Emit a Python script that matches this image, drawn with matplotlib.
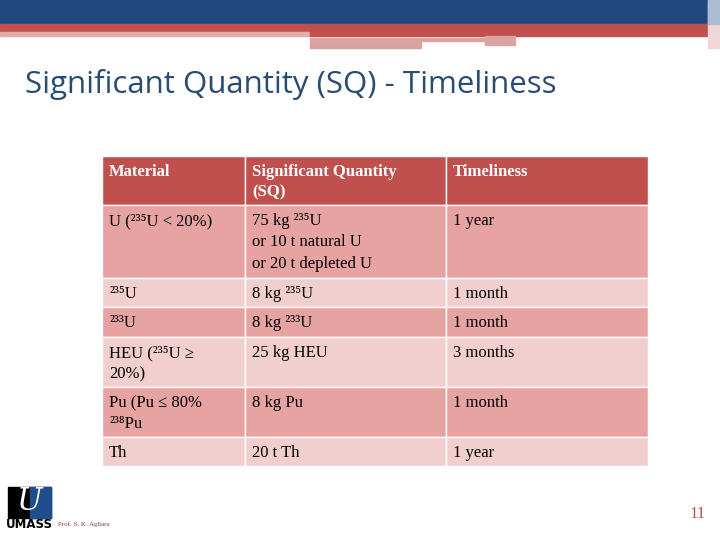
import matplotlib
matplotlib.use("Agg")
import matplotlib.pyplot as plt
from matplotlib.patches import Rectangle

headers = ["Material", "Significant Quantity\n(SQ)", "Timeliness"]
materials = ["U (²³⁵U < 20%)", "²³⁵U", "²³³U", "HEU (²³⁵U ≥\n20%)", "Pu (Pu ≤ 80%\n²³⁸Pu", "Th"]
quantities = ["75 kg ²³⁵U\nor 10 t natural U\nor 20 t depleted U", "8 kg ²³⁵U", "8 kg ²³³U", "25 kg HEU", "8 kg Pu", "20 t Th"]
timeliness = ["1 year", "1 month", "1 month", "3 months", "1 month", "1 year"]

fig = plt.figure(figsize=(7.2, 5.4), dpi=100)
ax = fig.add_axes([0, 0, 1, 1])
ax.set_xlim(0, 720); ax.set_ylim(540, 0); ax.axis("off")

blue = "#1F497D"; red = "#C0504D"
ax.add_patch(Rectangle((0, 0), 720, 24, color=blue))
ax.add_patch(Rectangle((0, 24), 720, 8, color=red))
ax.add_patch(Rectangle((0, 32), 310, 4, color="#E3ABAA"))
ax.add_patch(Rectangle((310, 32), 410, 4, color=red))
ax.add_patch(Rectangle((310, 38), 175, 3, color="#DCA3A2"))
ax.add_patch(Rectangle((310, 42), 111, 6, color="#D9A2A1"))
ax.add_patch(Rectangle((485, 36), 30, 9, color="#DCA3A2"))
ax.add_patch(Rectangle((708, 0), 12, 48, color="#F0D6D6"))
ax.add_patch(Rectangle((708, 0), 12, 24, color="#A9BCD3"))

ax.text(25, 84, "Significant Quantity (SQ) - Timeliness", fontsize=22.5, color="#2A4C73",
        family="Open Sans", va="center", ha="left")

xs = [102, 245, 446, 648]
ys = [156, 205, 278, 307, 337, 387, 437, 466]
fills = ["#E6A3A2", "#F1CFCE"]
serif = ["Liberation Serif", "DejaVu Serif"]
for c in range(3):
    ax.add_patch(Rectangle((xs[c], ys[0]), xs[c+1]-xs[c], ys[1]-ys[0], facecolor=red, edgecolor="white", lw=1))
    ax.text(xs[c]+7, ys[0]+8, headers[c], color="white", fontsize=12, family=serif,
            fontweight="bold", va="top", linespacing=1.4)
cols = [materials, quantities, timeliness]
for r in range(6):
    for c in range(3):
        ax.add_patch(Rectangle((xs[c], ys[r+1]), xs[c+1]-xs[c], ys[r+2]-ys[r+1],
                               facecolor=fills[r % 2], edgecolor="white", lw=1))
        ax.text(xs[c]+7, ys[r+1]+8, cols[c][r], color="black", fontsize=12, family=serif,
                va="top", linespacing=1.45)

# logo
ax.add_patch(Rectangle((8, 487), 43, 31, color="black"))
ax.add_patch(Rectangle((30, 487), 21, 31, color="#1F4E8C"))
ax.text(29, 502, "U", color="white", fontsize=22, fontstyle="italic", family="DejaVu Serif", ha="center", va="center")
ax.text(29, 525, "UMASS", color="black", fontsize=8.5, fontweight="bold", ha="center", va="center")
ax.text(58, 524, "Prof. S. K. Aghara", color="#8B3A3A", fontsize=5, family=serif, va="center")
ax.text(706, 514, "11", color=red, fontsize=12, family=serif, ha="right", va="center")

fig.savefig("out.png", dpi=100)
